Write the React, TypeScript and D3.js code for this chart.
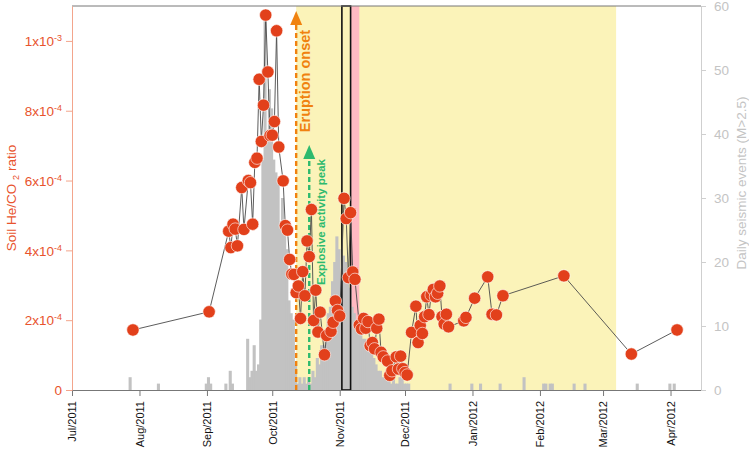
import React, { useEffect, useRef } from 'react';
import * as d3 from 'd3';

// soil He/CO2 ratio samples (values in units of 1e-4)
const ratioDates = [
    '2011-07-29', '2011-09-02', '2011-09-11', '2011-09-12', '2011-09-13', '2011-09-14', '2011-09-15',
    '2011-09-17', '2011-09-18', '2011-09-20', '2011-09-21', '2011-09-22', '2011-09-23', '2011-09-24',
    '2011-09-25', '2011-09-26', '2011-09-27', '2011-09-28', '2011-09-29', '2011-09-30', '2011-10-01',
    '2011-10-02', '2011-10-03', '2011-10-04', '2011-10-06', '2011-10-07', '2011-10-08', '2011-10-09',
    '2011-10-10', '2011-10-11', '2011-10-12', '2011-10-13', '2011-10-14', '2011-10-15', '2011-10-16',
    '2011-10-17', '2011-10-18', '2011-10-19', '2011-10-20', '2011-10-21', '2011-10-22', '2011-10-23',
    '2011-10-25', '2011-10-26', '2011-10-28', '2011-10-29', '2011-10-30', '2011-10-31', '2011-11-01',
    '2011-11-03', '2011-11-04', '2011-11-05', '2011-11-06', '2011-11-07', '2011-11-08', '2011-11-10',
    '2011-11-11', '2011-11-12', '2011-11-13', '2011-11-14', '2011-11-15', '2011-11-16', '2011-11-17',
    '2011-11-18', '2011-11-19', '2011-11-20', '2011-11-21', '2011-11-23', '2011-11-24', '2011-11-25',
    '2011-11-27', '2011-11-28', '2011-11-29', '2011-11-30', '2011-12-01', '2011-12-02', '2011-12-04',
    '2011-12-06', '2011-12-07', '2011-12-08', '2011-12-09', '2011-12-10', '2011-12-11', '2011-12-12',
    '2011-12-13', '2011-12-14', '2011-12-15', '2011-12-16', '2011-12-17', '2011-12-18', '2011-12-19',
    '2011-12-20', '2011-12-21', '2011-12-28', '2011-12-29', '2012-01-02', '2012-01-08', '2012-01-10',
    '2012-01-12', '2012-01-15', '2012-02-12', '2012-03-14', '2012-04-04'
];
const ratioValues = [
    1.72, 2.24, 4.55, 4.08, 4.75, 4.61, 4.13,
    5.80, 4.60, 6.00, 5.94, 4.75, 6.52, 6.64,
    8.90, 7.12, 8.16, 10.74, 9.11, 7.29, 7.30,
    7.69, 10.29, 6.96, 5.99, 4.71, 4.58, 3.74,
    3.32, 3.31, 2.79, 2.98, 2.05, 3.39, 2.70,
    4.27, 3.82, 5.17, 1.99, 2.86, 1.66, 2.23,
    1.01, 1.56, 1.68, 1.94, 2.55, 2.28, 2.12,
    5.49, 4.91, 3.22, 5.08, 3.38, 3.17, 1.86,
    1.75, 2.05, 1.77, 1.96, 1.27, 1.36, 1.18,
    1.77, 2.03, 1.08, 0.95, 0.83, 0.42, 0.55,
    0.95, 0.60, 0.97, 0.61, 0.50, 0.43, 1.65,
    2.40, 1.36, 1.85, 1.62, 2.10, 2.67, 2.16,
    2.72, 2.88, 2.67, 2.77, 2.98, 2.10, 1.89,
    2.17, 1.81, 1.98, 2.08, 2.63, 3.24, 2.17,
    2.15, 2.70, 3.27, 1.03, 1.72
];

// daily seismic events M>2.5 (days not listed had none)
const quakeDates = [
    '2011-07-27', '2011-08-09', '2011-08-31', '2011-09-01', '2011-09-02', '2011-09-09', '2011-09-11',
    '2011-09-12', '2011-09-19', '2011-09-20', '2011-09-21', '2011-09-22', '2011-09-23', '2011-09-24',
    '2011-09-25', '2011-09-26', '2011-09-27', '2011-09-28', '2011-09-29', '2011-09-30', '2011-10-01',
    '2011-10-02', '2011-10-03', '2011-10-04', '2011-10-05', '2011-10-06', '2011-10-07', '2011-10-08',
    '2011-10-09', '2011-10-10', '2011-10-11', '2011-10-12', '2011-10-13', '2011-10-14', '2011-10-15',
    '2011-10-16', '2011-10-17', '2011-10-18', '2011-10-19', '2011-10-20', '2011-10-21', '2011-10-22',
    '2011-10-23', '2011-10-24', '2011-10-25', '2011-10-26', '2011-10-27', '2011-10-28', '2011-10-29',
    '2011-10-30', '2011-10-31', '2011-11-01', '2011-11-02', '2011-11-03', '2011-11-04', '2011-11-05',
    '2011-11-06', '2011-11-07', '2011-11-08', '2011-11-09', '2011-11-10', '2011-11-11', '2011-11-12',
    '2011-11-13', '2011-11-14', '2011-11-15', '2011-11-16', '2011-11-17', '2011-11-18', '2011-11-19',
    '2011-11-20', '2011-11-21', '2011-11-22', '2011-11-23', '2011-11-24', '2011-11-25', '2011-11-26',
    '2011-11-27', '2011-11-28', '2011-11-29', '2011-11-30', '2011-12-01', '2011-12-02', '2011-12-21',
    '2011-12-31', '2012-01-04', '2012-01-13', '2012-01-24', '2012-02-02', '2012-02-03', '2012-02-05',
    '2012-02-06', '2012-02-16', '2012-02-21', '2012-03-16', '2012-03-31', '2012-04-02'
];
const quakeCounts = [
    2, 1, 1, 2, 1, 1, 3,
    1, 8, 2, 3, 7, 3, 4,
    11, 36, 58, 40, 47, 44, 36,
    34, 33, 26, 30, 25, 22, 14,
    12, 11, 4, 1, 2, 1, 2,
    1, 2, 1, 3, 2, 5, 4,
    7, 7, 9, 12, 13, 17, 20,
    24, 22, 17, 21, 20, 19, 16,
    13, 12, 10, 9, 9, 8, 8,
    7, 7, 6, 5, 4, 3, 3,
    2, 2, 2, 2, 1, 2, 1,
    1, 2, 2, 1, 1, 1, 1,
    1, 1, 1, 2, 1, 1, 1,
    1, 1, 1, 1, 1, 1
];

const monthTicks = ['2011-07-01', '2011-08-01', '2011-09-01', '2011-10-01', '2011-11-01',
    '2011-12-01', '2012-01-01', '2012-02-01', '2012-03-01', '2012-04-01'];
const ratioTicks = [0, 2, 4, 6, 8, 10];
const quakeTicks = [0, 10, 20, 30, 40, 50, 60];

const eruptionOnset = '2011-10-12';
const explosivePeak = '2011-10-18';
const eruptionPeriod = ['2011-10-12', '2012-03-07'];
const pinkPeriod = ['2011-11-06', '2011-11-10'];
const boxPeriod = ['2011-11-02', '2011-11-06'];

const FONT = '"Liberation Sans", Arial, sans-serif';

export default function App() {
    const ref = useRef<SVGSVGElement>(null);

    useEffect(() => {
        const parse = d3.utcParse('%Y-%m-%d');
        const svg = d3.select(ref.current);
        svg.selectAll('*').remove();

        const left = 72, right = 701, top = 6, bottom = 390;

        const x = d3.scaleUtc()
            .domain([parse('2011-07-01'), parse('2012-04-15')])
            .range([left, right]);
        const yRatio = d3.scaleLinear().domain([0, 11]).range([bottom, top]);
        const yQuake = d3.scaleLinear().domain([0, 60]).range([bottom, top]);

        const g = svg.append('g').style('font-family', FONT);

        // shaded periods
        const span = (p, color) => g.append('rect')
            .attr('x', x(parse(p[0])))
            .attr('y', top)
            .attr('width', x(parse(p[1])) - x(parse(p[0])))
            .attr('height', bottom - top)
            .attr('fill', color);
        span(eruptionPeriod, '#fbf3b9');
        span(pinkPeriod, '#ffb9c2');

        // seismic histogram
        const quakes = quakeDates.map((d, i) => ({date: parse(d), n: quakeCounts[i]}));
        g.append('g').selectAll('rect')
            .data(quakes)
            .enter().append('rect')
            .attr('x', d => x(d.date))
            .attr('width', d => x(d3.utcDay.offset(d.date, 1)) - x(d.date) + 0.9)
            .attr('y', d => yQuake(d.n))
            .attr('height', d => bottom - yQuake(d.n))
            .attr('fill', '#c2c2c2');

        // black box
        g.append('rect')
            .attr('x', x(parse(boxPeriod[0])))
            .attr('y', top)
            .attr('width', x(parse(boxPeriod[1])) - x(parse(boxPeriod[0])))
            .attr('height', bottom - top)
            .attr('fill', 'none')
            .attr('stroke', '#111')
            .attr('stroke-width', 1.6);

        // frame top
        g.append('line').attr('x1', left).attr('x2', right).attr('y1', top).attr('y2', top)
            .attr('stroke', '#777').attr('stroke-width', 1);

        // arrows
        const arrow = (date, tipY, color) => {
            const ax = x(parse(date));
            g.append('line')
                .attr('x1', ax).attr('x2', ax)
                .attr('y1', bottom).attr('y2', tipY + 13)
                .attr('stroke', color).attr('stroke-width', 2.4)
                .attr('stroke-dasharray', '5,3');
            const p = d3.path();
            p.moveTo(ax, tipY);
            p.lineTo(ax + 6, tipY + 14);
            p.lineTo(ax - 6, tipY + 14);
            p.closePath();
            g.append('path').attr('d', p.toString()).attr('fill', color);
            return ax;
        };
        const ox = arrow(eruptionOnset, 11, '#f0820f');
        const gx = arrow(explosivePeak, 145, '#2dba6e');

        g.append('text')
            .attr('transform', `translate(${ox + 14},81) rotate(-90)`)
            .attr('text-anchor', 'middle')
            .attr('font-size', 14.5)
            .attr('font-weight', 'bold')
            .attr('fill', '#f0820f')
            .text('Eruption onset');
        g.append('text')
            .attr('transform', `translate(${gx + 16},222) rotate(-90)`)
            .attr('text-anchor', 'middle')
            .attr('font-size', 11.5)
            .attr('font-weight', 'bold')
            .attr('fill', '#2dba6e')
            .text('Explosive activity peak');

        // He/CO2 line + points
        const ratios = ratioDates.map((d, i) => ({date: parse(d), v: ratioValues[i]}));
        const line = d3.line()
            .x(d => x(d.date))
            .y(d => yRatio(d.v));
        g.append('path')
            .datum(ratios)
            .attr('d', line)
            .attr('fill', 'none')
            .attr('stroke', '#4a4a4a')
            .attr('stroke-width', 0.9);
        g.append('g').selectAll('circle')
            .data(ratios)
            .enter().append('circle')
            .attr('cx', d => x(d.date))
            .attr('cy', d => yRatio(d.v))
            .attr('r', 6.2)
            .attr('fill', '#e2401b')
            .attr('stroke', '#fff')
            .attr('stroke-width', 0.6);

        // x axis
        const xAxis = g.append('g')
            .attr('transform', 'translate(0,' + bottom + ')')
            .call(d3.axisBottom(x)
                .tickValues(monthTicks.map(d => parse(d)))
                .tickSize(6)
                .tickSizeOuter(0)
                .tickFormat(d3.utcFormat('%b/%Y')));
        xAxis.select('.domain').attr('stroke', '#777');
        xAxis.selectAll('.tick line').attr('stroke', '#777');
        xAxis.selectAll('.tick text')
            .attr('transform', 'rotate(-90)')
            .attr('x', -11)
            .attr('y', 0)
            .attr('dy', '0.35em')
            .attr('text-anchor', 'end')
            .attr('font-size', 11)
            .attr('font-family', FONT)
            .attr('fill', '#111');

        // left axis
        const red = '#e8532d';
        const lAxis = g.append('g')
            .attr('transform', 'translate(' + left + ',0)')
            .call(d3.axisLeft(yRatio).tickValues(ratioTicks).tickSize(6).tickSizeOuter(0).tickFormat(() => ''));
        lAxis.select('.domain').attr('stroke', '#f3a58c');
        lAxis.selectAll('.tick line').attr('stroke', '#f3a58c');
        lAxis.selectAll('.tick text').each(function (v) {
            const t = d3.select(this)
                .attr('x', -10)
                .attr('dy', '0.35em')
                .attr('font-size', 13.5)
                .attr('font-family', FONT)
                .attr('fill', red)
                .attr('text-anchor', 'end');
            if (v === 0) {
                t.text('0');
                return;
            }
            const mant = v >= 10 ? v / 10 : v;
            const exp = v >= 10 ? '-3' : '-4';
            t.append('tspan').text(mant + 'x10');
            t.append('tspan').attr('dy', -5).attr('font-size', 9).text(exp);
        });
        g.append('text')
            .attr('transform', 'translate(16,198) rotate(-90)')
            .attr('text-anchor', 'middle')
            .attr('font-size', 13.5)
            .attr('fill', red)
            .call(t => {
                t.append('tspan').text('Soil He/CO ');
                t.append('tspan').attr('dy', 3).attr('font-size', 9).text('2');
                t.append('tspan').attr('dy', -3).text(' ratio');
            });

        // right axis
        const grey = '#c4c4c4';
        const rAxis = g.append('g')
            .attr('transform', 'translate(' + right + ',0)')
            .call(d3.axisRight(yQuake).tickValues(quakeTicks).tickSize(5).tickPadding(8).tickSizeOuter(0));
        rAxis.select('.domain').attr('stroke', '#cfcfcf');
        rAxis.selectAll('.tick line').attr('stroke', '#cfcfcf');
        rAxis.selectAll('.tick text')
            .attr('font-size', 13.5)
            .attr('font-family', FONT)
            .attr('fill', grey);
        g.append('text')
            .attr('transform', 'translate(741,183) rotate(-90)')
            .attr('text-anchor', 'middle')
            .attr('dy', '0.35em')
            .attr('font-size', 13.5)
            .attr('fill', grey)
            .text('Daily seismic events (M>2.5)');
    }, []);

    return (
        <svg ref={ref} width={749} height={449}
             style={{position: 'absolute', left: 0, top: 0, background: '#fff'}}/>
    );
}
